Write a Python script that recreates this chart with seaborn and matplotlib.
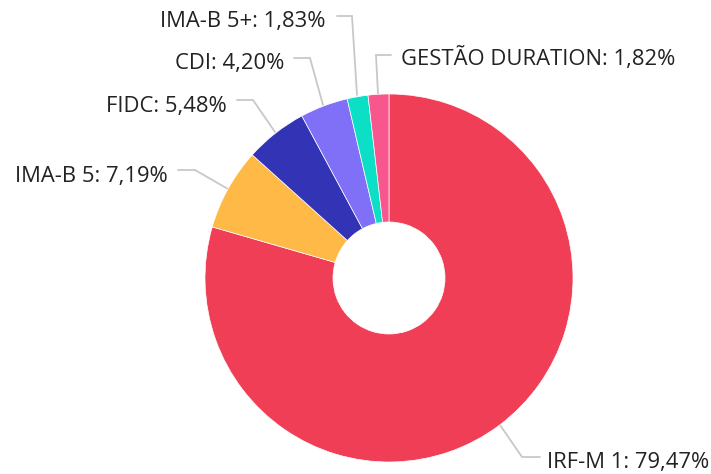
import matplotlib
matplotlib.use("Agg")
import matplotlib.pyplot as plt
import seaborn as sns

# Data
categories = ["IRF-M 1", "IMA-B 5", "FIDC", "CDI", "IMA-B 5+", "GESTÃO DURATION"]
values = [79.47, 7.19, 5.48, 4.20, 1.83, 1.82]
value_labels = ["79,47%", "7,19%", "5,48%", "4,20%", "1,83%", "1,82%"]
colors = ["#EF3E55", "#FFB946", "#3333B5", "#8070F8", "#0BE0C6", "#F7578C"]

sns.set_theme(style="white")
plt.rcParams["font.family"] = ["Open Sans", "DejaVu Sans"]
palette = sns.color_palette(colors)

W, H = 711, 474
fig = plt.figure(figsize=(W / 100, H / 100), dpi=100)
ax = fig.add_axes([0, 0, 1, 1])

cx, cy, R = 389, 278, 184
# y axis is inverted (pixel-like coords), so start at -90 and go counterclockwise in data
ax.pie(values, colors=palette, startangle=-90, counterclock=True,
       center=(cx, cy), radius=R,
       wedgeprops=dict(width=R - 56, linewidth=0.5, edgecolor="white"),
       frame=True)
ax.set_xlim(0, W)
ax.set_ylim(H, 0)
ax.set_aspect("equal")
ax.axis("off")

# label layout: (connector points, text x, text baseline y, ha)
layout = [
    ([(500, 425), (522, 457), (540, 457)], 547, 468, "left"),
    ([(228, 189), (195, 170), (178, 170)], 168, 182, "right"),
    ([(275, 132), (253, 100), (237, 100)], 227, 112, "right"),
    ([(323, 105), (310, 58), (294, 58)], 284, 69, "right"),
    ([(357, 95), (352, 16), (337, 16)], 326, 27, "right"),
    ([(378, 94), (376, 55), (391, 55)], 401, 65, "left"),
]

for (pts, tx, ty, ha), cat, lab in zip(layout, categories, value_labels):
    xs = [p[0] for p in pts]
    ys = [p[1] for p in pts]
    ax.plot(xs, ys, color="#C8C8C8", lw=1.3, solid_joinstyle="miter", zorder=0)
    ax.text(tx, ty, f"{cat}: {lab}", ha=ha, va="baseline", fontsize=15.8,
            color="#222222")

fig.savefig("out.png", dpi=100)
